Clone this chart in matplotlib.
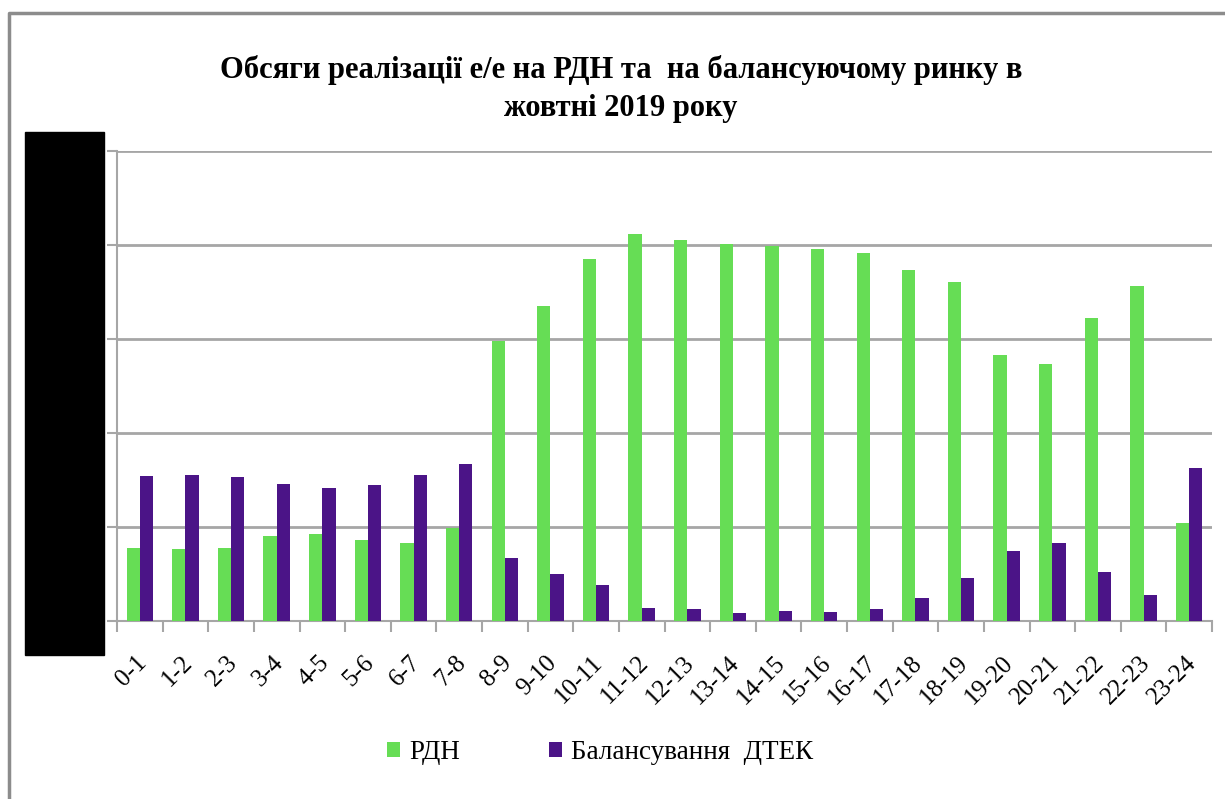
import numpy as np
import matplotlib.pyplot as plt
from matplotlib.patches import Rectangle
from matplotlib.lines import Line2D

# години доби
hours = ['0-1', '1-2', '2-3', '3-4', '4-5', '5-6', '6-7', '7-8', '8-9', '9-10',
         '10-11', '11-12', '12-13', '13-14', '14-15', '15-16', '16-17', '17-18',
         '18-19', '19-20', '20-21', '21-22', '22-23', '23-24']

# обсяги (умовні одиниці, шкала закрита в оригіналі)
rdn = [780, 770, 780, 900, 930, 860, 830, 990, 2980, 3350,
       3850, 4120, 4050, 4010, 3990, 3960, 3910, 3730, 3610, 2830,
       2730, 3220, 3560, 1040]
dtek = [1540, 1550, 1530, 1460, 1410, 1450, 1550, 1670, 670, 500,
        380, 140, 130, 90, 110, 100, 130, 240, 460, 740,
        830, 520, 280, 1630]

green = '#66DD55'
purple = '#4B1487'
grid_c = '#A6A6A6'

plt.rcParams['font.family'] = ['Liberation Serif', 'DejaVu Serif']

fig = plt.figure(figsize=(12.25, 7.99), dpi=100)
ax = fig.add_axes([117 / 1225, 178 / 799, 1095 / 1225, 470 / 799])

x = np.arange(len(hours))
w = 0.29
ax.bar(x - w / 2, rdn, w, color=green, label='РДН', zorder=3)
ax.bar(x + w / 2, dtek, w, color=purple, label='Балансування  ДТЕК', zorder=3)

ax.set_xlim(-0.5, len(hours) - 0.5)
ax.set_ylim(0, 5000)
ax.set_yticks(np.arange(0, 5001, 1000))
ax.yaxis.grid(True, color=grid_c, linewidth=2, zorder=0)
ax.tick_params(axis='y', length=7, width=1.5, color=grid_c, labelleft=False)

ax.set_xticks(x - 0.1)
ax.set_xticklabels(hours, rotation=45, ha='right', rotation_mode='anchor', fontsize=18)
ax.tick_params(axis='x', length=0, pad=22)
ax.set_xticks(np.arange(-0.5, len(hours), 1), minor=True)
ax.tick_params(axis='x', which='minor', length=8, width=1.5, color=grid_c)

for s in ['top', 'right']:
    ax.spines[s].set_visible(False)
for s in ['left', 'bottom']:
    ax.spines[s].set_color(grid_c)
    ax.spines[s].set_linewidth(1.5)

fig.text(0.507, 0.931, 'Обсяги реалізації е/е на РДН та  на балансуючому ринку в\nжовтні 2019 року',
         ha='center', va='top', fontsize=22, fontweight='bold', linespacing=1.4)

fig.legend(loc='center', bbox_to_anchor=(0.49, 0.058), ncol=2, frameon=False,
           fontsize=19.5, handlelength=0.45, handleheight=0.45, handletextpad=0.35,
           columnspacing=3.3)

# закрита шкала
fig.patches.append(Rectangle((25 / 1225, 144 / 799), 79 / 1225, 523 / 799,
                             transform=fig.transFigure, color='black'))
# рамка
fig.lines.append(Line2D([9 / 1225, 9 / 1225, 1], [0, 1 - 13 / 799, 1 - 13 / 799],
                        transform=fig.transFigure, color='#8C8C8C', linewidth=2.5))

fig.savefig('out.png', dpi=100)
